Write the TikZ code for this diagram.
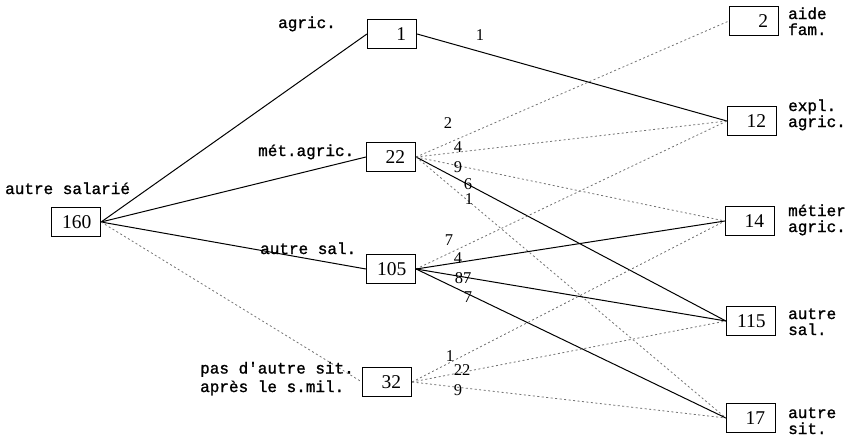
\documentclass[tikz,border=0pt]{standalone}
\usepackage{fontspec}
\setmonofont{Liberation Mono}[FakeBold=1.2]
\newfontfamily\numfont{Liberation Serif}
\begin{document}
\begin{tikzpicture}[x=1pt,y=-1pt,
  box/.style={draw, line width=1.2pt, minimum width=49pt, minimum height=29pt, inner xsep=10.5pt, inner ysep=0pt, text width=28pt, align=right, font=\numfont\fontsize{19.5}{19.5}\selectfont},
  lbl/.style={font=\ttfamily\fontsize{16}{16}\selectfont, inner sep=0pt, anchor=base west, align=left},
  num/.style={font=\numfont\fontsize{16.5}{16.5}\selectfont, inner sep=0pt},
  sol/.style={line width=1pt},
  dot/.style={line width=0.8pt, black!55, dash pattern=on 2pt off 2.5pt}]
\useasboundingbox (0,0) rectangle (848,437);
% boxes
\node[box] (a160) at (76,222) {160};
\node[box] (b1) at (392,34) {1};
\node[box] (b22) at (391,157) {22};
\node[box] (b105) at (391,269) {105};
\node[box] (b32) at (387,382) {32};
\node[box] (c2) at (754,21) {2};
\node[box] (c12) at (752,121) {12};
\node[box] (c14) at (750,221) {14};
\node[box] (c115) at (751,321) {115};
\node[box] (c17) at (751,418) {17};
% labels
\node[lbl] (l160) at (5,194) {autre salarié};
\node[lbl] (l1) at (278,28) {agric.};
\node[lbl] (l22) at (258,156) {mét.agric.};
\node[lbl] (l105) at (260,254) {autre sal.};
\node[lbl, font=\ttfamily\fontsize{16}{18.5}\selectfont] (l32) at (200,392) {pas d'autre sit.\\après le s.mil.};
\node[lbl] (r2) at (788,35) {aide\\fam.};
\node[lbl] (r12) at (788,127) {expl.\\agric.};
\node[lbl] (r14) at (788,232) {métier\\agric.};
\node[lbl] (r115) at (788,335) {autre\\sal.};
\node[lbl] (r17) at (788,434) {autre\\sit.};
% edges from 160
\draw[sol] (a160.east) -- (b1.west);
\draw[sol] (a160.east) -- (b22.west);
\draw[sol] (a160.east) -- (b105.west);
\draw[dot] (a160.east) -- (b32.west);
% edges from 1
\draw[sol] (b1.east) -- (c12.west);
% edges from 22
\draw[dot] (b22.east) -- (c2.west);
\draw[dot] (b22.east) -- (c12.west);
\draw[dot] (b22.east) -- (c14.west);
\draw[sol] (b22.east) -- (c115.west);
\draw[dot] (b22.east) -- (c17.west);
% edges from 105
\draw[dot] (b105.east) -- (c12.west);
\draw[sol] (b105.east) -- (c14.west);
\draw[sol] (b105.east) -- (c115.west);
\draw[sol] (b105.east) -- (c17.west);
% edges from 32
\draw[dot] (b32.east) -- (c14.west);
\draw[dot] (b32.east) -- (c115.west);
\draw[dot] (b32.east) -- (c17.west);
% edge numbers
\node[num] (n1) at (480,35) {1};
\node[num] (n22a) at (448,123) {2};
\node[num] (n22b) at (458,147) {4};
\node[num] (n22c) at (458,167) {9};
\node[num] (n22d) at (468,184) {6};
\node[num] (n22e) at (469,199) {1};
\node[num] (n105a) at (449,240) {7};
\node[num] (n105b) at (458,258) {4};
\node[num] (n105c) at (463,278) {87};
\node[num] (n105d) at (468,297) {7};
\node[num] (n32a) at (450,356) {1};
\node[num] (n32b) at (462,370) {22};
\node[num] (n32c) at (458,390) {9};
\end{tikzpicture}
\end{document}
